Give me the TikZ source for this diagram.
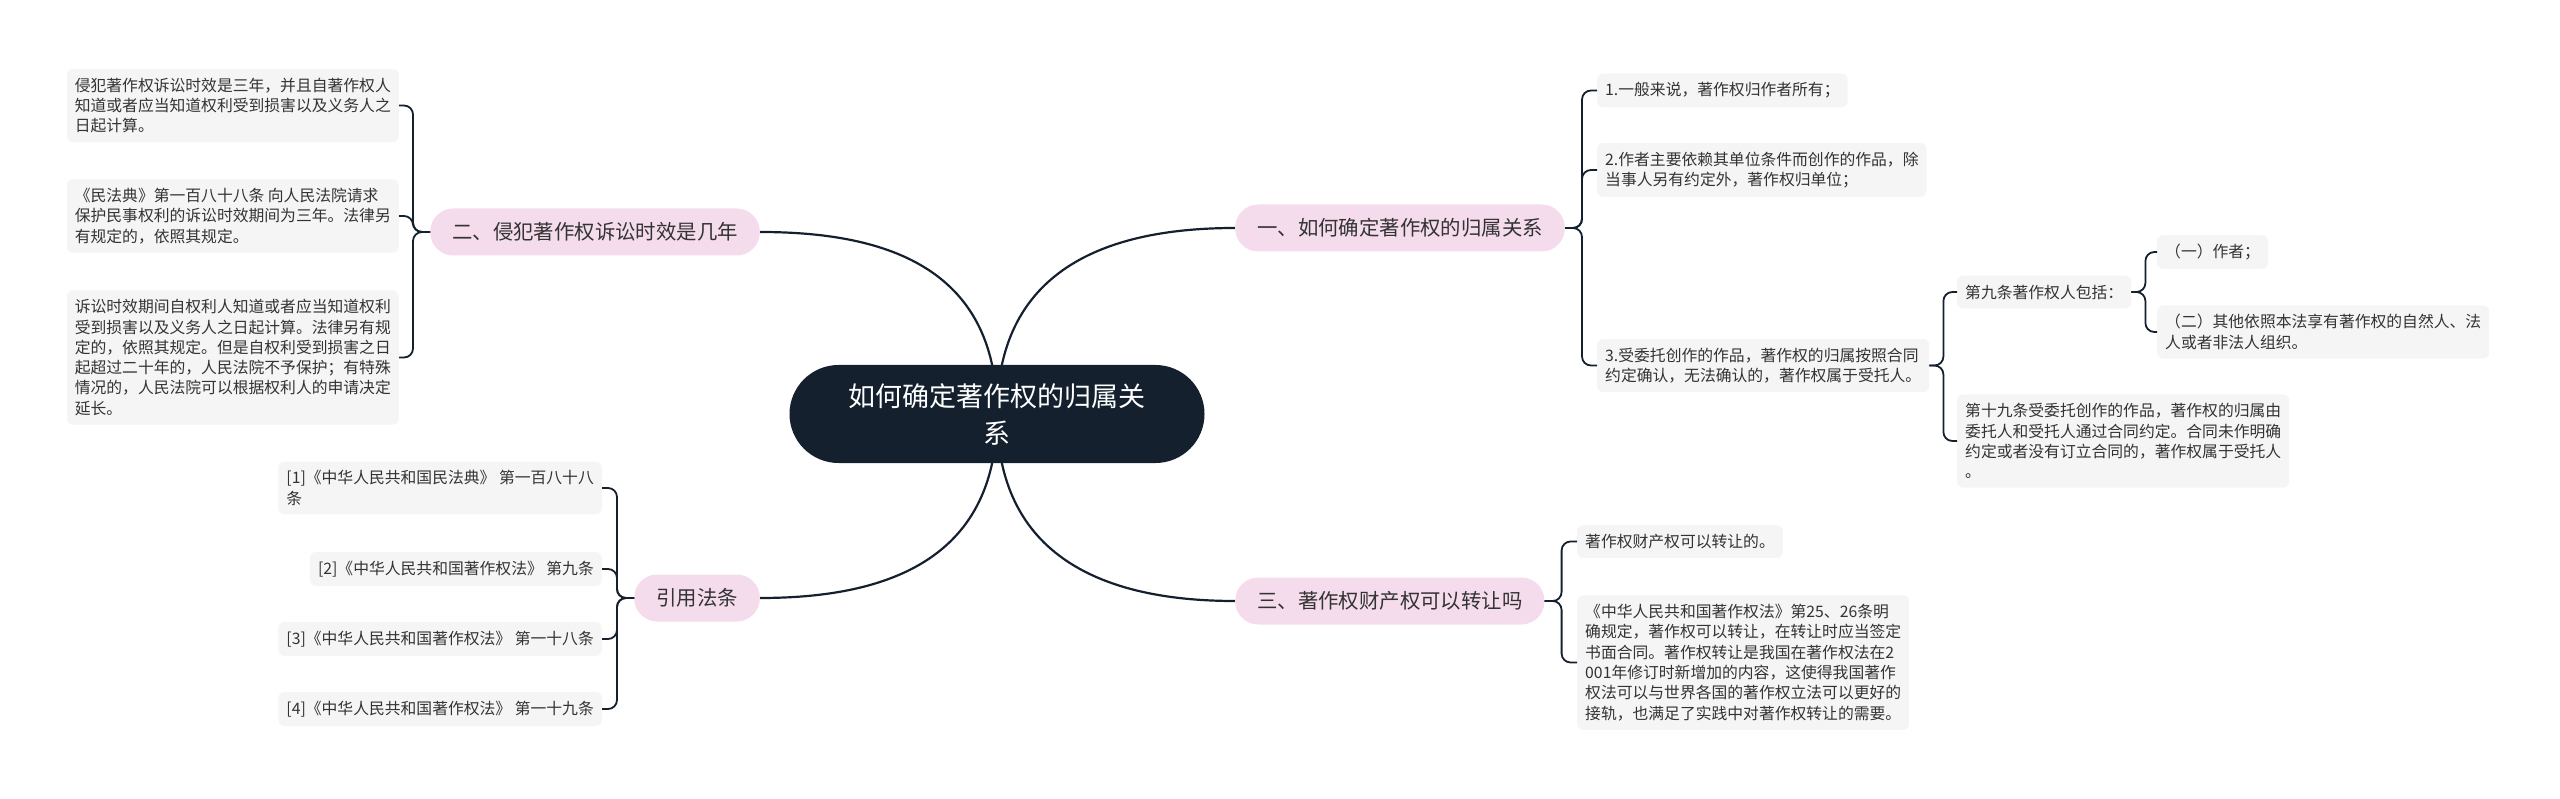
\documentclass[tikz,border=0pt]{standalone}
\usepackage{fontspec}
\newfontfamily\cjk{Noto Sans CJK SC}
\usetikzlibrary{backgrounds}
\definecolor{rootblue}{HTML}{15202F}
\definecolor{topicpink}{HTML}{F5DCEC}
\definecolor{leafgray}{HTML}{F5F5F5}
\definecolor{inkgray}{HTML}{333333}
\tikzset{
  root/.style={fill=rootblue,text=white,rounded corners=49pt,minimum width=415pt,minimum height=98pt,align=center,font=\cjk\fontsize{27}{37}\selectfont},
  topic/.style={fill=topicpink,text=inkgray,rounded corners=23pt,minimum height=47pt,inner xsep=22pt,font=\cjk\fontsize{20.4}{26}\selectfont},
  leaf/.style={fill=leafgray,text=inkgray,rounded corners=6pt,inner xsep=8pt,inner ysep=9pt,align=left,font=\cjk\fontsize{15.8}{20.3}\selectfont},
  link/.style={draw=rootblue,line width=2.2pt},
  fork/.style={draw=rootblue,line width=1.8pt,rounded corners=9pt},
}
\begin{document}
\begin{tikzpicture}[x=1pt,y=-1pt]
\useasboundingbox (0,0) rectangle (2560,799);
% centre and main topics
\node[root] (root) at (997,414) {如何确定著作权的归属关\\系};
\node[topic,anchor=west] (own) at (1235,228) {一、如何确定著作权的归属关系};
\node[topic,anchor=east] (limit) at (760,232) {二、侵犯著作权诉讼时效是几年};
\node[topic,anchor=west] (transfer) at (1235,601) {三、著作权财产权可以转让吗};
\node[topic,anchor=east] (cite) at (760,598) {引用法条};
% left leaves
\node[leaf,anchor=east] (lim1) at (399,105.5) {侵犯著作权诉讼时效是三年，并且自著作权人\\知道或者应当知道权利受到损害以及义务人之\\日起计算。};
\node[leaf,anchor=east] (lim2) at (399,216) {《民法典》第一百八十八条 向人民法院请求\\保护民事权利的诉讼时效期间为三年。法律另\\有规定的，依照其规定。};
\node[leaf,anchor=east] (lim3) at (399,357.5) {诉讼时效期间自权利人知道或者应当知道权利\\受到损害以及义务人之日起计算。法律另有规\\定的，依照其规定。但是自权利受到损害之日\\起超过二十年的，人民法院不予保护；有特殊\\情况的，人民法院可以根据权利人的申请决定\\延长。};
\node[leaf,anchor=east] (ref1) at (602,488) {[1]《中华人民共和国民法典》 第一百八十八\\条};
\node[leaf,anchor=east] (ref2) at (602,569) {[2]《中华人民共和国著作权法》 第九条};
\node[leaf,anchor=east] (ref3) at (602,639) {[3]《中华人民共和国著作权法》 第一十八条};
\node[leaf,anchor=east] (ref4) at (602,709) {[4]《中华人民共和国著作权法》 第一十九条};
% right leaves
\node[leaf,anchor=west] (own1) at (1597,90.5) {1.一般来说，著作权归作者所有；};
\node[leaf,anchor=west] (own2) at (1597,170) {2.作者主要依赖其单位条件而创作的作品，除\\当事人另有约定外，著作权归单位；};
\node[leaf,anchor=west] (own3) at (1597,365.5) {3.受委托创作的作品，著作权的归属按照合同\\约定确认，无法确认的，著作权属于受托人。};
\node[leaf,anchor=west] (art9) at (1957,292) {第九条著作权人包括：};
\node[leaf,anchor=west] (art19) at (1957,441) {第十九条受委托创作的作品，著作权的归属由\\委托人和受托人通过合同约定。合同未作明确\\约定或者没有订立合同的，著作权属于受托人\\。};
\node[leaf,anchor=west] (who1) at (2157,252) {（一）作者；};
\node[leaf,anchor=west] (who2) at (2157,332) {（二）其他依照本法享有著作权的自然人、法\\人或者非法人组织。};
\node[leaf,anchor=west] (tr1) at (1577,541.5) {著作权财产权可以转让的。};
\node[leaf,anchor=west] (tr2) at (1577,662.5) {《中华人民共和国著作权法》第25、26条明\\确规定，著作权可以转让，在转让时应当签定\\书面合同。著作权转让是我国在著作权法在2\\001年修订时新增加的内容，这使得我国著作\\权法可以与世界各国的著作权立法可以更好的\\接轨，也满足了实践中对著作权转让的需要。};
% connectors
\begin{scope}[on background layer]
\draw[link] (root.center) .. controls +(0,-150) and +(-120,0) .. (own.west);
\draw[link] (root.center) .. controls +(0,-150) and +(120,0) .. (limit.east);
\draw[link] (root.center) .. controls +(0,150) and +(-120,0) .. (transfer.west);
\draw[link] (root.center) .. controls +(0,150) and +(120,0) .. (cite.east);
\end{scope}
\foreach \leafname in {lim1,lim2,lim3}
  \draw[fork] (limit.west) -- ++(-17,0) |- (\leafname.east);
\foreach \leafname in {ref1,ref2,ref3,ref4}
  \draw[fork] (cite.west) -- ++(-17,0) |- (\leafname.east);
\foreach \leafname in {own1,own2,own3}
  \draw[fork] (own.east) -- ++(17,0) |- (\leafname.west);
\foreach \leafname in {art9,art19}
  \draw[fork] (own3.east) -- ++(14,0) |- (\leafname.west);
\foreach \leafname in {who1,who2}
  \draw[fork] (art9.east) -- ++(14,0) |- (\leafname.west);
\foreach \leafname in {tr1,tr2}
  \draw[fork] (transfer.east) -- ++(17,0) |- (\leafname.west);
\end{tikzpicture}
\end{document}
